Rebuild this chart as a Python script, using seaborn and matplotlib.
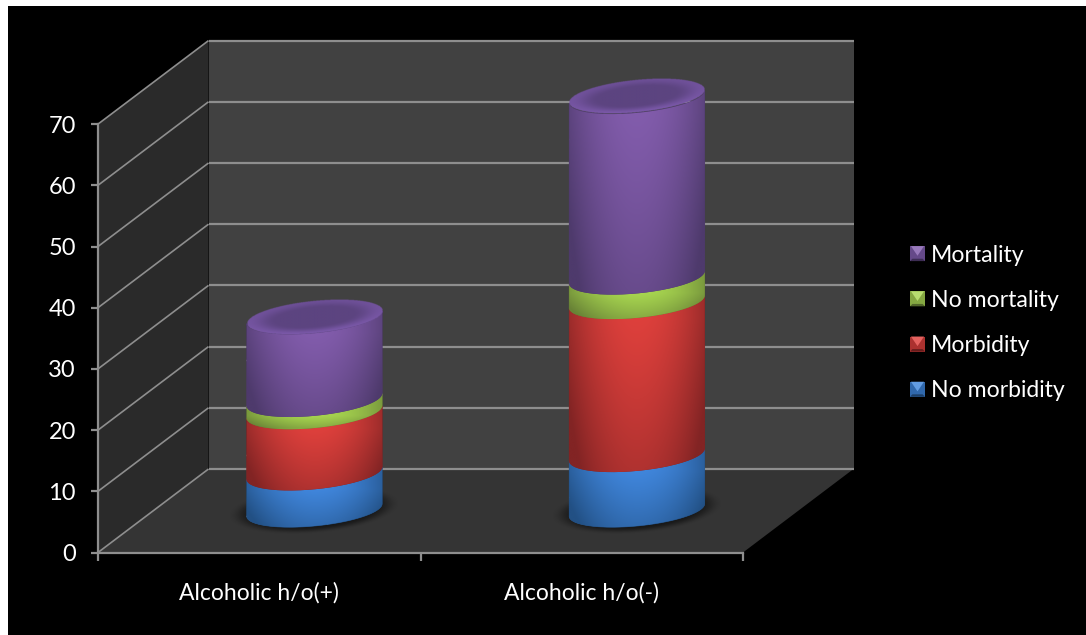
import numpy as np
import matplotlib
matplotlib.use("Agg")
import matplotlib.pyplot as plt
import seaborn as sns
from matplotlib.legend_handler import HandlerBase
from matplotlib.patches import Patch, PathPatch, Polygon
from matplotlib.path import Path
from matplotlib.ticker import FixedLocator

# Chart values, stacked from the floor upwards
categories = ["Alcoholic h/o(+)", "Alcoholic h/o(-)"]
no_morbidity = [6, 9]
morbidity = [10, 25]
no_mortality = [2, 4]
mortality = [13.5, 29.5]
series_names = ["No morbidity", "Morbidity", "No mortality", "Mortality"]
y_ticks = [0, 10, 20, 30, 40, 50, 60, 70]

# Lit and shaded tone of each series
bright = {"No morbidity": (64, 134, 220), "Morbidity": (222, 64, 60),
          "No mortality": (168, 214, 80), "Mortality": (130, 92, 172)}
shaded = {"No morbidity": (34, 80, 132), "Morbidity": (130, 36, 36),
          "No mortality": (104, 130, 54), "Mortality": (78, 58, 108)}

W, H = 1086, 635
PX_X = 322.5          # pixels per category
PX_Y = 6.12           # pixels per value unit
LEFT, FLOOR = 98, 552.5
BORDER_L, BORDER_T = 8, 6
GRID = "#8e8e8e"

sns.set_theme(style="ticks")
plt.rcParams["font.family"] = ["Lato", "DejaVu Sans"]

fig = plt.figure(figsize=(W / 100, H / 100), dpi=100, facecolor="white")
ax = fig.add_axes([BORDER_L / W, 0, (W - BORDER_L) / W, (H - BORDER_T) / H], facecolor="black")

# Depth of the box, in data units
DX = 110.5 / PX_X
DY = 83.5 / PX_Y
MID_DX = 55.2 / PX_X
MID_DY = 42.5 / PX_Y
A = 0.42 / 2
ELL_B = 16.0 / PX_Y   # vertical half-size of a cylinder cap
ELL_K = 6.3 / PX_Y    # rise of the cap from centre to its right edge

# Stacked bars give the extent of every cylinder section
bottoms = np.zeros(len(categories))
sections = {}
for name, vals in zip(series_names, [no_morbidity, morbidity, no_mortality, mortality]):
    before = len(ax.patches)
    sns.barplot(x=categories, y=vals, bottom=bottoms, width=0.42, color="#444444",
                ax=ax, zorder=4, saturation=1)
    sections[name] = ax.patches[before:]
    bottoms = bottoms + np.array(vals, dtype=float)

ax.set_xlim(-0.5 - (LEFT - BORDER_L) / PX_X, -0.5 + (W - LEFT) / PX_X)
ax.set_ylim(-(H - FLOOR) / PX_Y, (FLOOR - BORDER_T) / PX_Y)
xlim, ylim = ax.get_xlim(), ax.get_ylim()

x0, x1 = -0.5, 1.5
top = y_ticks[-1]

# Walls and floor of the box
ax.add_patch(Polygon([(x0 + DX, DY), (x1 + DX, DY), (x1 + DX, top + DY), (x0 + DX, top + DY)],
                     fc="#414141", ec="none", zorder=1))
ax.add_patch(Polygon([(x0, 0), (x0 + DX, DY), (x0 + DX, top + DY), (x0, top)],
                     fc="#2a2a2a", ec="none", zorder=1))
ax.add_patch(Polygon([(x0, 0), (x1, 0), (x1 + DX, DY), (x0 + DX, DY)],
                     fc="#343434", ec="none", zorder=1))
for v in y_ticks:
    ax.plot([x0, x0 + DX], [v, v + DY], color=GRID, lw=1.2, zorder=2, solid_capstyle="butt")
    ax.plot([x0 + DX, x1 + DX], [v + DY, v + DY], color=GRID, lw=1.6, zorder=2, solid_capstyle="butt")


def front_arc(cx, cy, reverse=False):
    t = np.linspace(0, np.pi, 80)
    if reverse:
        t = t[::-1]
    return np.column_stack([cx + A * np.cos(t), cy + ELL_K * np.cos(t) - ELL_B * np.sin(t)])


def lerp(c0, c1, t):
    c0, c1 = np.array(c0) / 255, np.array(c1) / 255
    return c0 + (c1 - c0) * t[..., None]


def smooth(e0, e1, v):
    s = np.clip((v - e0) / (e1 - e0), 0, 1)
    return s * s * (3 - 2 * s)


def draw_shadow(cx, cy):
    a, b, k = 86 / PX_X, 24 / PX_Y, ELL_K
    xs = np.linspace(cx - a, cx + a, 240)
    ys = np.linspace(cy - b - k, cy + b + k, 120)
    gx, gy = np.meshgrid(xs, ys)
    u = (gx - cx) / a
    w = (gy - cy - k * u) / b
    r = np.hypot(u, w)
    rgba = np.zeros(gx.shape + (4,))
    rgba[..., 3] = 0.52 * (1 - smooth(0.72, 1.0, r))
    ax.imshow(rgba, extent=(xs[0], xs[-1], ys[0], ys[-1]), origin="lower", aspect="auto",
              zorder=3, interpolation="bilinear")


def draw_section(name, cx, y0, y1, bar):
    outline = np.vstack([front_arc(cx, y0), front_arc(cx, y1, reverse=True)])
    edge = tuple(c / 255 for c in shaded[name])
    body = PathPatch(Path(np.vstack([outline, outline[0]])), fc=edge, ec=edge, lw=0.5, zorder=4)
    ax.add_patch(body)
    bar.set_clip_path(body)

    xs = np.linspace(cx - A, cx + A, 240)
    ys = np.linspace(y0 - ELL_B - ELL_K, y1 + ELL_K, 400)
    gx, gy = np.meshgrid(xs, ys)
    u = (gx - cx) / A
    v = np.clip((y1 - ELL_B - gy) / max(y1 - y0, 1e-6), 0, 1)
    t = np.clip(0.72 * np.abs(u) ** 2.0 + 0.5 * v ** 1.1, 0, 1)
    im = ax.imshow(lerp(bright[name], shaded[name], t), extent=(xs[0], xs[-1], ys[0], ys[-1]),
                   origin="lower", aspect="auto", zorder=5, interpolation="bilinear")
    im.set_clip_path(body)


def draw_cap(name, cx, cy):
    xs = np.linspace(cx - A, cx + A, 300)
    ys = np.linspace(cy - ELL_B - ELL_K - 0.2, cy + ELL_B + ELL_K + 0.2, 160)
    gx, gy = np.meshgrid(xs, ys)
    u = (gx - cx) / A
    w = (gy - cy - ELL_K * u) / ELL_B
    r = np.hypot(u, w)
    rim = smooth(0.55, 1.0, r) * (0.8 - 0.25 * w)
    col = lerp((92, 68, 128), (122, 88, 168), np.clip(rim, 0, 1))
    rgba = np.dstack([col, (r <= 1).astype(float)])
    ax.imshow(rgba, extent=(xs[0], xs[-1], ys[0], ys[-1]), origin="lower", aspect="auto",
              zorder=6, interpolation="bilinear")


for i in range(len(categories)):
    first = sections[series_names[0]][i]
    cx = first.get_x() + first.get_width() / 2 + MID_DX
    draw_shadow(cx, first.get_y() + MID_DY)
    for name in series_names:
        bar = sections[name][i]
        draw_section(name, cx, bar.get_y() + MID_DY, bar.get_y() + bar.get_height() + MID_DY, bar)
    last = sections[series_names[-1]][i]
    draw_cap(series_names[-1], cx, last.get_y() + last.get_height() + MID_DY)

ax.set_xlim(xlim)
ax.set_ylim(ylim)

# Axis lines, ticks and labels
for side in ("top", "right"):
    ax.spines[side].set_visible(False)
ax.spines["left"].set_position(("data", x0))
ax.spines["bottom"].set_position(("data", 0))
ax.spines["left"].set_bounds(0, top)
ax.spines["bottom"].set_bounds(x0, x1)
for side in ("left", "bottom"):
    ax.spines[side].set_color(GRID)
    ax.spines[side].set_linewidth(1.6)
    ax.spines[side].set_zorder(3)

ax.set_yticks(y_ticks)
ax.xaxis.set_minor_locator(FixedLocator([x0, 0.5, x1]))
ax.tick_params(axis="y", colors="white", labelsize=17, length=5, width=1.6, color=GRID, pad=11)
ax.tick_params(axis="x", which="major", colors="white", labelsize=16.5, length=0, pad=21.5)
ax.tick_params(axis="x", which="minor", length=5.5, width=1.6, color=GRID)
ax.set_xlabel("")
ax.set_ylabel("")


class BevelHandler(HandlerBase):
    """Small square key with a light top facet and a dark lower edge."""

    def create_artists(self, legend, orig_handle, xdescent, ydescent, width, height, fontsize, trans):
        name = orig_handle.get_label()
        s = 15 * 0.72
        x = -xdescent
        y = -ydescent + (height - s) / 2
        m = s * 0.16
        mid = tuple((a + 0.55 * (b - a)) / 255 for a, b in zip(bright[name], shaded[name]))
        light = tuple(c / 255 * 0.82 + 0.18 for c in bright[name])
        dark = tuple(c / 255 * 0.78 for c in shaded[name])
        facets = [
            ([(x, y), (x + s, y), (x + s, y + s), (x, y + s)], mid),
            ([(x + m * 0.4, y + s), (x + s - m * 0.4, y + s), (x + s / 2, y + s * 0.36)], light),
            ([(x, y), (x + s, y), (x + s - m, y + m), (x + m, y + m)], dark),
        ]
        return [Polygon(pts, closed=True, fc=col, ec="none", transform=trans) for pts, col in facets]


handles = [Patch(label=n) for n in series_names[::-1]]
leg = ax.legend(handles=handles, labels=series_names[::-1],
                handler_map={Patch: BevelHandler()}, frameon=False,
                loc="center left", bbox_to_anchor=(910 / W, 1 - 323 / H),
                bbox_transform=fig.transFigure, fontsize=16.6, labelcolor="white",
                labelspacing=1.05, handlelength=0.65, handletextpad=0.26,
                borderpad=0, borderaxespad=0)
leg.set_zorder(10)

fig.savefig("out.png", dpi=100, facecolor=fig.get_facecolor())
